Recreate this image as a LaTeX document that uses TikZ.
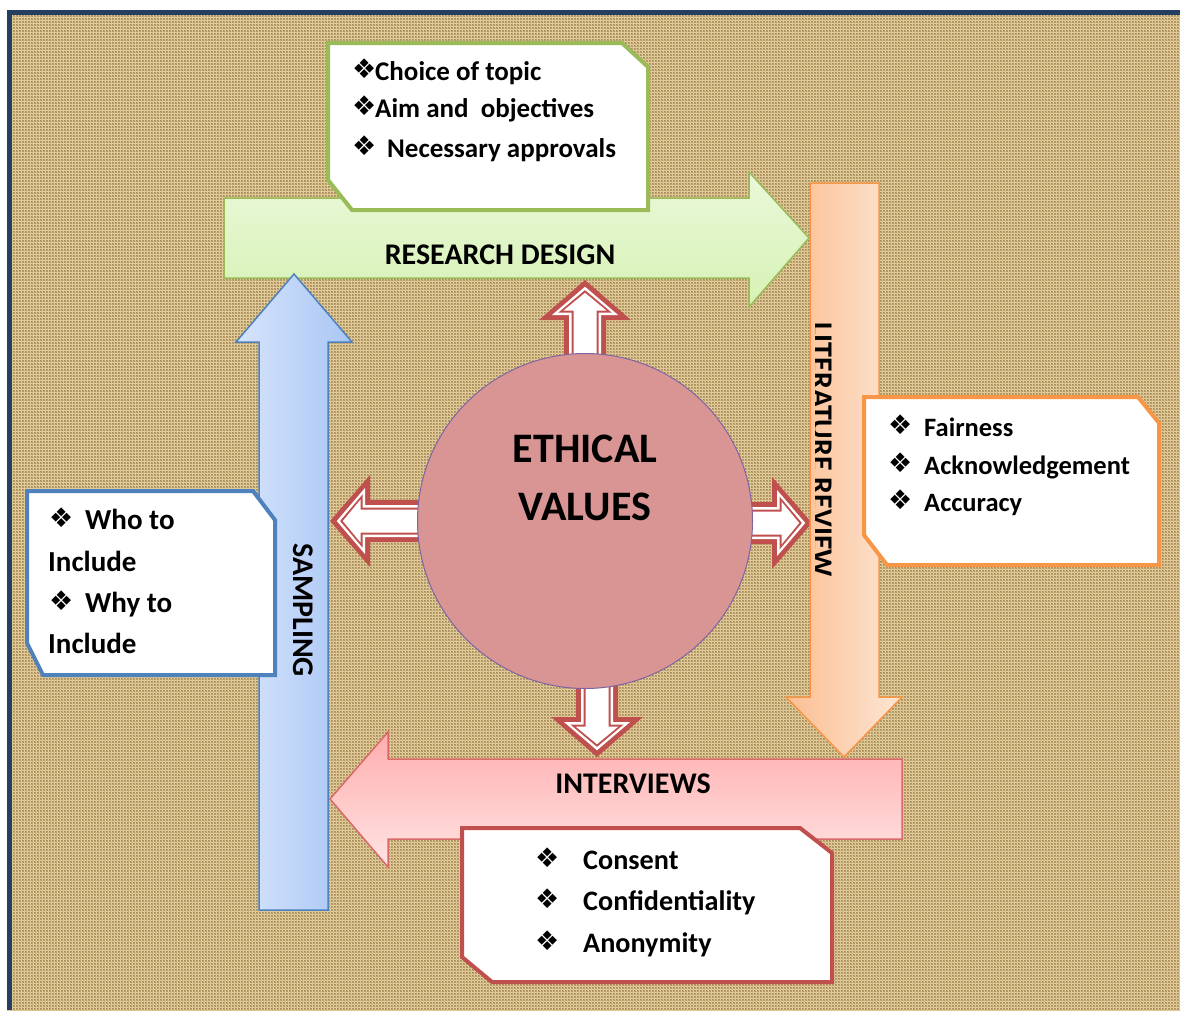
\documentclass[tikz,border=0pt]{standalone}
\usepackage{fontspec}
\setmainfont{Carlito}
\newfontfamily\dingfont{DejaVu Sans}
\usetikzlibrary{patterns}

\definecolor{burlap}{HTML}{BE9F6B}
\definecolor{weave}{HTML}{E6D29E}
\definecolor{frame}{HTML}{243F60}
\definecolor{valred}{HTML}{C0504D}
\definecolor{valfill}{HTML}{D99594}
\definecolor{valedge}{HTML}{8064A2}
\definecolor{greenedge}{HTML}{9BBB59}
\definecolor{greentop}{HTML}{EAF8DA}
\definecolor{greenbot}{HTML}{D6F2B4}
\definecolor{orangeedge}{HTML}{F79646}
\definecolor{orangeleft}{HTML}{FBBE92}
\definecolor{orangeright}{HTML}{FDE6D4}
\definecolor{blueedge}{HTML}{4F81BD}
\definecolor{blueleft}{HTML}{D6E4FC}
\definecolor{blueright}{HTML}{A9C6F5}
\definecolor{pinkedge}{HTML}{D96A6A}
\definecolor{pinktop}{HTML}{FFADAD}
\definecolor{pinkbot}{HTML}{FFE4E4}

\begin{document}
\begin{tikzpicture}[x=1pt, y=-1pt,
	boxtext/.style={anchor=base west, inner sep=0, font=\fontsize{#1}{30}\selectfont\bfseries},
	boxtext/.default=26.5,
	bullet/.style={anchor=base west, inner sep=0, font=\fontsize{27}{30}\dingfont},
	title/.style={inner sep=0, font=\fontsize{30}{36}\selectfont\bfseries},
	infobox/.style={fill=white, line width=4pt, line join=miter},
	pics/valarrow/.style={code={
		\foreach \d/\col in {0/valred,5/white,7.5/valred,9.5/white}
		\fill[\col] (0,-21+\d) -- (#1-40+\d,-21+\d) -- (#1-40+\d,-46+2.59*\d)
			-- (#1-1.35*\d,0) -- (#1-40+\d,46-2.59*\d) -- (#1-40+\d,21-\d) -- (0,21-\d) -- cycle;
	}}]
	\useasboundingbox (0,0) rectangle (1180,1010);
	%background
	\fill[burlap] (7,10) rectangle (1180,1010);
	\fill[pattern=grid, pattern color=weave] (7,10) rectangle (1180,1010);
	\fill[pattern=crosshatch dots, pattern color=burlap!80!black] (7,10) rectangle (1180,1010);
	\draw[frame, line width=5pt] (9.5,1010) -- (9.5,12.5) -- (1180,12.5);
	
	%arrows out of the circle
	\coordinate (evcenter) at (585,521);
	\pic[rotate=90] at (evcenter) {valarrow=241};
	\pic[rotate=180] at (evcenter) {valarrow=255};
	\pic at (585,523) {valarrow=227};
	\pic[rotate=-90] at (597,600) {valarrow=157};
	\node[circle, minimum size=335pt, fill=valfill, draw=valedge, line width=1pt] (ethics) at (evcenter) {};
	\node[inner sep=0, font=\fontsize{42}{58}\selectfont\bfseries, anchor=base] (ethicstop) at (585,462) {ETHICAL};
	\node[inner sep=0, font=\fontsize{42}{58}\selectfont\bfseries, anchor=base] (ethicsbot) at (585,520) {VALUES};
	
	%research design
	\draw[greenedge, line width=1.5pt, top color=greentop, bottom color=greenbot]
	(224,198) -- (749,198) -- (749,172) -- (809,238) -- (749,307) -- (749,278) -- (224,278) -- cycle;
	\node[title, anchor=base] (design) at (500,264) {RESEARCH DESIGN};
	\draw[infobox, draw=greenedge] (328,43) -- (622,43) -- (648,67) -- (648,210) -- (352,210) -- (328,180) -- cycle;
	\foreach \txt/\tx/\ty [count=\i] in {Choice of topic/375/80, Aim and\ \ objectives/375/117, Necessary approvals/387/157}{
		\node[bullet] (designbul\i) at (352,\ty-2) {❖};
		\node[boxtext=27] (designtxt\i) at (\tx,\ty) {\txt};
	}
	
	%literature review
	\draw[orangeedge, line width=1.5pt, left color=orangeleft, right color=orangeright]
	(810,183) -- (879,183) -- (879,697) -- (902,697) -- (844,757) -- (786,697) -- (810,697) -- cycle;
	\begin{scope}
		\clip (815.5,183) rectangle (879,697);
		\node[title, rotate=-90, anchor=base west] (review) at (812,322) {LITERATURE REVIEW};
	\end{scope}
	\draw[infobox, draw=orangeedge] (864,397) -- (1138,397) -- (1159,423) -- (1159,565) -- (887,565) -- (864,535) -- cycle;
	\foreach \txt/\ty [count=\i] in {Fairness/436, Acknowledgement/474, Accuracy/511}{
		\node[bullet] (reviewbul\i) at (888,\ty-2) {❖};
		\node[boxtext] (reviewtxt\i) at (924,\ty) {\txt};
	}
	
	%interviews
	\draw[pinkedge, line width=1.5pt, top color=pinktop, bottom color=pinkbot]
	(902,759) -- (902,839) -- (388,839) -- (388,867) -- (330,799) -- (388,732) -- (388,759) -- cycle;
	\node[title, anchor=base] (interviews) at (633,793) {INTERVIEWS};
	\draw[infobox, draw=valred] (462,828) -- (800,828) -- (832,853) -- (832,982) -- (492,982) -- (462,957) -- cycle;
	\foreach \txt/\ty [count=\i] in {Consent/869, Confidentiality/910, Anonymity/952}{
		\node[bullet] (interbul\i) at (535,\ty-2) {❖};
		\node[boxtext=28.2] (intertxt\i) at (583,\ty) {\txt};
	}
	
	%sampling
	\draw[blueedge, line width=1.5pt, left color=blueleft, right color=blueright]
	(259,910) -- (259,342) -- (236,342) -- (294,274) -- (352,342) -- (328,342) -- (328,910) -- cycle;
	\node[title, rotate=-90, anchor=base west] (sampling) at (293,543) {SAMPLING};
	\draw[infobox, draw=blueedge] (27,491) -- (253,491) -- (275,520) -- (275,675) -- (43,675) -- (27,643) -- cycle;
	\node[bullet] (samplebul1) at (49,527) {❖};
	\node[boxtext=29] (sampletxt1) at (85,529) {Who to};
	\node[boxtext=29] (sampletxt2) at (48,571) {Include};
	\node[bullet] (samplebul2) at (49,610) {❖};
	\node[boxtext=29] (sampletxt3) at (85,612) {Why to};
	\node[boxtext=29] (sampletxt4) at (48,653) {Include};
\end{tikzpicture}
\end{document}
